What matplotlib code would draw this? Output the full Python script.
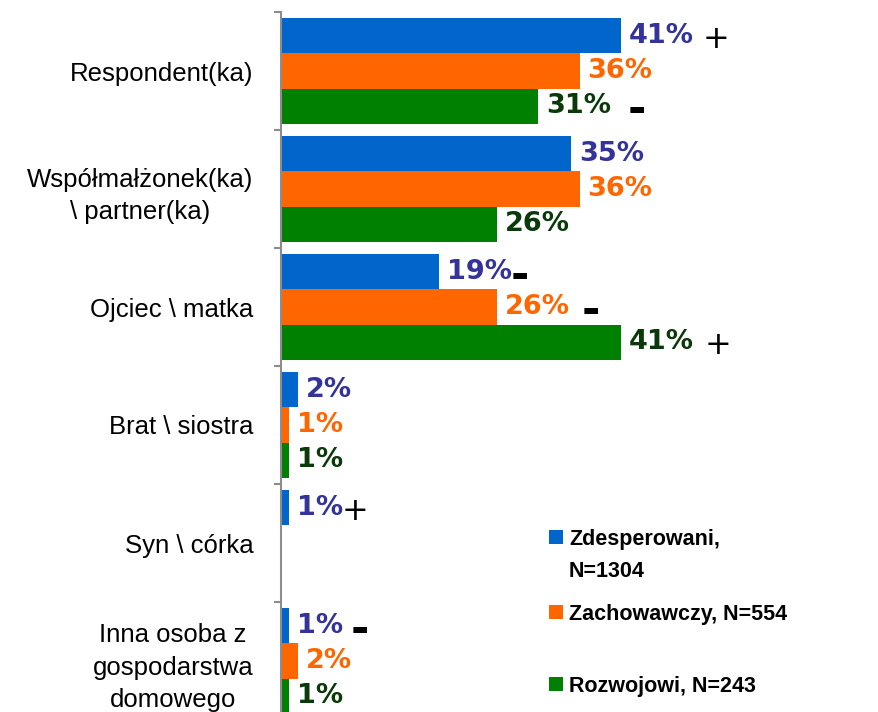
import matplotlib
matplotlib.use("Agg")
import matplotlib.pyplot as plt
from matplotlib.patches import Rectangle

categories = [
    "Respondent(ka)",
    "Współmałżonek(ka)\n\\ partner(ka)",
    "Ojciec \\ matka",
    "Brat \\ siostra",
    "Syn \\ córka",
    "Inna osoba z\ngospodarstwa\ndomowego",
]
series_names = ["Zdesperowani,\nN=1304", "Zachowawczy, N=554", "Rozwojowi, N=243"]
zdesperowani = [41, 35, 19, 2, 1, 1]
zachowawczy = [36, 36, 26, 1, None, 2]
rozwojowi = [31, 26, 41, 1, None, 1]
# significance signs per series (None = no sign)
signs_zdesp = ["+", None, "-", None, "+", "-"]
signs_zach = [None, None, "-", None, None, None]
signs_rozw = ["-", None, "+", None, None, None]

bar_colors = ["#0066CC", "#FF6600", "#008000"]
label_colors = ["#333399", "#FF6600", "#0A3A0A"]
# horizontal offset (px) of each sign from the bar end
sign_dx = [
    [82, None, 72, None, 52, 61],
    [None, None, 85, None, None, None],
    [90, None, 84, None, None, None],
]

W, H = 879, 712
fig = plt.figure(figsize=(W / 100, H / 100), dpi=100)
ax_left, ax_top = 281, 12
group_px = 118
ax = fig.add_axes([ax_left / W, 1 - (ax_top + 6 * group_px) / H,
                   (W - ax_left) / W, 6 * group_px / H])

px_per_unit = 340 / 41
ax.set_xlim(0, (W - ax_left) / px_per_unit)
ax.set_ylim(5.5, -0.5)

all_values = [zdesperowani, zachowawczy, rozwojowi]
all_signs = [signs_zdesp, signs_zach, signs_rozw]
bar_h = 0.3
offsets = [-0.3, 0.0, 0.3]
px2pt = 72 / 100

for s, values in enumerate(all_values):
    for i, v in enumerate(values):
        if v is None:
            continue
        y = i + offsets[s]
        ax.barh(y, v, height=bar_h, color=bar_colors[s], linewidth=0, zorder=2)
        ax.annotate(f"{v}%", (v, y), xytext=(8 * px2pt, 0), textcoords="offset points",
                    ha="left", va="center", fontsize=19.5, fontweight="bold",
                    family="DejaVu Sans", color=label_colors[s], zorder=3)
        sg = all_signs[s][i]
        if sg:
            dx = sign_dx[s][i]
            if sg == "+":
                ax.annotate("+", (v, y), xytext=(dx * px2pt, 0), textcoords="offset points",
                            ha="left", va="center_baseline", fontsize=23, fontweight="normal",
                            family="DejaVu Sans", color="black", zorder=4)
            else:
                ax.annotate("-", (v, y), xytext=(dx * px2pt, 0), textcoords="offset points",
                            ha="left", va="center_baseline", fontsize=32, fontweight="heavy",
                            family="DejaVu Sans", color="black", zorder=4)

ax.set_yticks(range(len(categories)))
ax.set_yticklabels(categories, fontsize=18.5, family="Liberation Sans", linespacing=1.45)
for lbl in ax.get_yticklabels():
    lbl.set_multialignment("center")
ax.set_yticks([i - 0.5 for i in range(len(categories) + 1)], minor=True)
ax.tick_params(axis="y", which="major", length=0, pad=20)
ax.tick_params(axis="y", which="minor", length=5, width=1.5, color="#8C8C8C")
ax.set_xticks([])
for side in ["top", "right", "bottom"]:
    ax.spines[side].set_visible(False)
ax.spines["left"].set_color("#8C8C8C")
ax.spines["left"].set_linewidth(1.5)

# legend drawn by hand
leg_y = [537, 612, 684]
for s, name in enumerate(series_names):
    yc = leg_y[s]
    fig.add_artist(Rectangle((549 / W, 1 - (yc + 7) / H), 14 / W, 14 / H,
                             transform=fig.transFigure, color=bar_colors[s], linewidth=0))
    for k, line in enumerate(name.split("\n")):
        fig.text(569 / W, 1 - (yc + 32 * k) / H, line, ha="left", va="center_baseline",
                 fontsize=15.5, fontweight="bold", family="Liberation Sans", color="black")

fig.savefig("out.png", dpi=100)
